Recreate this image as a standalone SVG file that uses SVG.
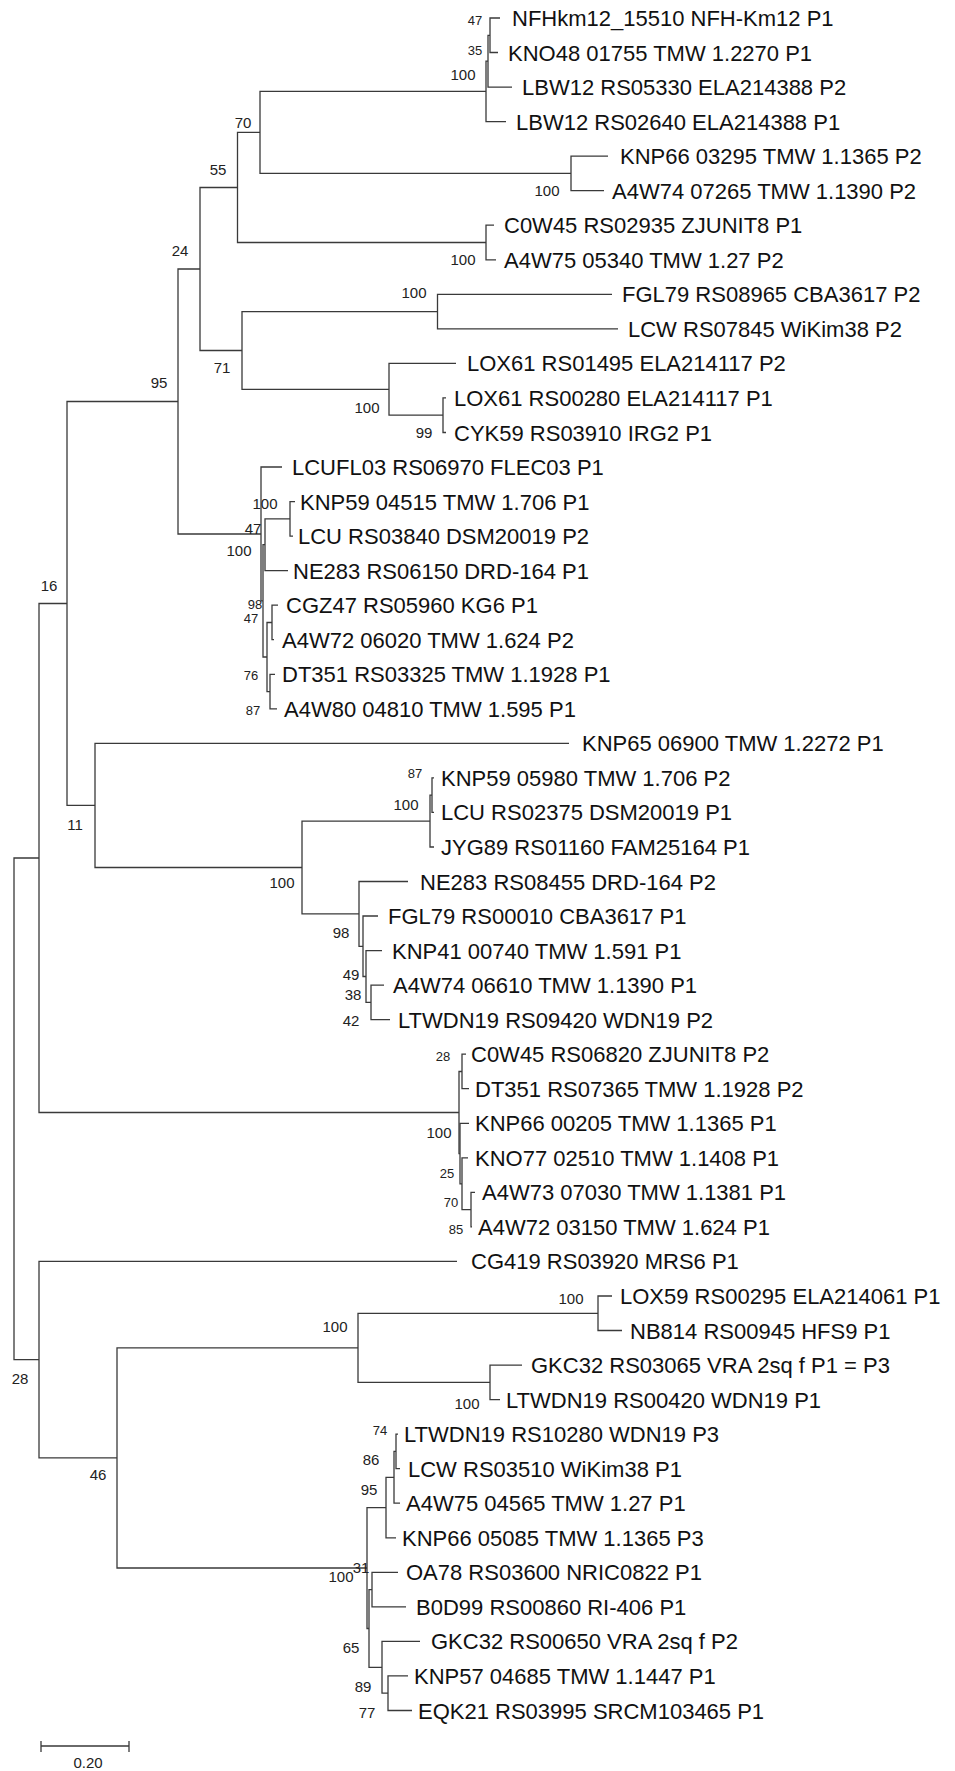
<svg xmlns="http://www.w3.org/2000/svg" width="955" height="1771" viewBox="0 0 955 1771">
<style>
.e{fill:none;stroke:#3a3a3a;stroke-width:1.3}
.t{font-family:"Liberation Sans",Arial,sans-serif;font-size:22px;fill:#111}
.b{font-family:"Liberation Sans",Arial,sans-serif;font-size:15px;fill:#222;text-anchor:middle}
.s{font-size:13px}
</style>
<rect width="955" height="1771" fill="#fff"/>
<g id="connectors" class="e">
<path d="M500 18 H490 V52.5 H498"/>
<path d="M490 35.3 H488 V87.1 H512"/>
<path d="M488 61.2 H486 V121.6 H506"/>
<path d="M608 156.2 H571 V190.7 H604"/>
<path d="M486 91.4 H260 V173.4 H571"/>
<path d="M494 225.2 H486 V259.8 H496"/>
<path d="M260 132.4 H237.5 V242.5 H486"/>
<path d="M612 294.3 H437.5 V328.9 H618"/>
<path d="M446 397.9 H443 V432.5 H446"/>
<path d="M456 363.4 H389 V415.2 H443"/>
<path d="M437.5 311.6 H242 V389.3 H389"/>
<path d="M237.5 187.5 H200 V350.5 H242"/>
<path d="M295 501.6 H290 V536.1 H293"/>
<path d="M290 518.9 H265 V570.6 H288"/>
<path d="M278 605.2 H272 V639.7 H274"/>
<path d="M275 674.3 H270 V708.8 H277"/>
<path d="M272 622.5 H267 V691.6 H270"/>
<path d="M265 544.7 H263 V657 H267"/>
<path d="M282 467 H261 V600.9 H263"/>
<path d="M200 269 H178 V534 H261"/>
<path d="M434 777.9 H432 V812.4 H434"/>
<path d="M432 795.2 H430 V847 H434"/>
<path d="M384 985.1 H371 V1019.7 H390"/>
<path d="M382 950.6 H366 V1002.4 H371"/>
<path d="M378 916 H363 V976.5 H366"/>
<path d="M408 881.5 H359 V946.3 H363"/>
<path d="M430 821.1 H302 V913.9 H359"/>
<path d="M569 743.3 H95 V867.5 H302"/>
<path d="M178 401.5 H67 V805.4 H95"/>
<path d="M475 1192.4 H471 V1226.9 H472"/>
<path d="M468 1157.8 H462 V1209.7 H471"/>
<path d="M469 1123.3 H460 V1183.8 H462"/>
<path d="M466 1054.2 H462 V1088.7 H469"/>
<path d="M462 1071.5 H459 V1153.6 H460"/>
<path d="M67 603.5 H39 V1112.5 H459"/>
<path d="M612 1296 H598 V1330.5 H622"/>
<path d="M522 1365.1 H490 V1399.6 H500"/>
<path d="M598 1313.3 H358 V1382.4 H490"/>
<path d="M398 1434.1 H396 V1468.7 H400"/>
<path d="M396 1451.4 H394 V1503.2 H400"/>
<path d="M394 1477.3 H386 V1537.8 H396"/>
<path d="M398 1572.3 H372 V1606.8 H406"/>
<path d="M408 1675.9 H388 V1710.5 H412"/>
<path d="M420 1641.4 H382 V1693.2 H388"/>
<path d="M372 1589.6 H369 V1667.3 H382"/>
<path d="M386 1507.6 H367 V1628.5 H369"/>
<path d="M358 1347.8 H117 V1568 H367"/>
<path d="M457 1261.4 H39 V1457.9 H117"/>
<path d="M39 858 H14 V1359.7 H39"/>
<path d="M41 1746 H129 M41 1741 V1752 M129 1741 V1752"/>
</g>
<g id="leaves" class="t">
<g id="leaf1"><text x="512" y="26">NFHkm12_15510 NFH-Km12 P1</text></g>
<g id="leaf2"><text x="508" y="60.5">KNO48 01755 TMW 1.2270 P1</text></g>
<g id="leaf3"><text x="522" y="95.1">LBW12 RS05330 ELA214388 P2</text></g>
<g id="leaf4"><text x="516" y="129.6">LBW12 RS02640 ELA214388 P1</text></g>
<g id="leaf5"><text x="620" y="164.2">KNP66 03295 TMW 1.1365 P2</text></g>
<g id="leaf6"><text x="612" y="198.7">A4W74 07265 TMW 1.1390 P2</text></g>
<g id="leaf7"><text x="504" y="233.2">C0W45 RS02935 ZJUNIT8 P1</text></g>
<g id="leaf8"><text x="504" y="267.8">A4W75 05340 TMW 1.27 P2</text></g>
<g id="leaf9"><text x="622" y="302.3">FGL79 RS08965 CBA3617 P2</text></g>
<g id="leaf10"><text x="628" y="336.9">LCW RS07845 WiKim38 P2</text></g>
<g id="leaf11"><text x="467" y="371.4">LOX61 RS01495 ELA214117 P2</text></g>
<g id="leaf12"><text x="454" y="405.9">LOX61 RS00280 ELA214117 P1</text></g>
<g id="leaf13"><text x="454" y="440.5">CYK59 RS03910 IRG2 P1</text></g>
<g id="leaf14"><text x="292" y="475">LCUFL03 RS06970 FLEC03 P1</text></g>
<g id="leaf15"><text x="300" y="509.6">KNP59 04515 TMW 1.706 P1</text></g>
<g id="leaf16"><text x="298" y="544.1">LCU RS03840 DSM20019 P2</text></g>
<g id="leaf17"><text x="293" y="578.6">NE283 RS06150 DRD-164 P1</text></g>
<g id="leaf18"><text x="286" y="613.2">CGZ47 RS05960 KG6 P1</text></g>
<g id="leaf19"><text x="282" y="647.7">A4W72 06020 TMW 1.624 P2</text></g>
<g id="leaf20"><text x="282" y="682.3">DT351 RS03325 TMW 1.1928 P1</text></g>
<g id="leaf21"><text x="284" y="716.8">A4W80 04810 TMW 1.595 P1</text></g>
<g id="leaf22"><text x="582" y="751.3">KNP65 06900 TMW 1.2272 P1</text></g>
<g id="leaf23"><text x="441" y="785.9">KNP59 05980 TMW 1.706 P2</text></g>
<g id="leaf24"><text x="441" y="820.4">LCU RS02375 DSM20019 P1</text></g>
<g id="leaf25"><text x="441" y="855">JYG89 RS01160 FAM25164 P1</text></g>
<g id="leaf26"><text x="420" y="889.5">NE283 RS08455 DRD-164 P2</text></g>
<g id="leaf27"><text x="388" y="924">FGL79 RS00010 CBA3617 P1</text></g>
<g id="leaf28"><text x="392" y="958.6">KNP41 00740 TMW 1.591 P1</text></g>
<g id="leaf29"><text x="393" y="993.1">A4W74 06610 TMW 1.1390 P1</text></g>
<g id="leaf30"><text x="398" y="1027.7">LTWDN19 RS09420 WDN19 P2</text></g>
<g id="leaf31"><text x="471" y="1062.2">C0W45 RS06820 ZJUNIT8 P2</text></g>
<g id="leaf32"><text x="475" y="1096.7">DT351 RS07365 TMW 1.1928 P2</text></g>
<g id="leaf33"><text x="475" y="1131.3">KNP66 00205 TMW 1.1365 P1</text></g>
<g id="leaf34"><text x="475" y="1165.8">KNO77 02510 TMW 1.1408 P1</text></g>
<g id="leaf35"><text x="482" y="1200.4">A4W73 07030 TMW 1.1381 P1</text></g>
<g id="leaf36"><text x="478" y="1234.9">A4W72 03150 TMW 1.624 P1</text></g>
<g id="leaf37"><text x="471" y="1269.4">CG419 RS03920 MRS6 P1</text></g>
<g id="leaf38"><text x="620" y="1304">LOX59 RS00295 ELA214061 P1</text></g>
<g id="leaf39"><text x="630" y="1338.5">NB814 RS00945 HFS9 P1</text></g>
<g id="leaf40"><text x="531" y="1373.1">GKC32 RS03065 VRA 2sq f P1 = P3</text></g>
<g id="leaf41"><text x="506" y="1407.6">LTWDN19 RS00420 WDN19 P1</text></g>
<g id="leaf42"><text x="404" y="1442.1">LTWDN19 RS10280 WDN19 P3</text></g>
<g id="leaf43"><text x="408" y="1476.7">LCW RS03510 WiKim38 P1</text></g>
<g id="leaf44"><text x="406" y="1511.2">A4W75 04565 TMW 1.27 P1</text></g>
<g id="leaf45"><text x="402" y="1545.8">KNP66 05085 TMW 1.1365 P3</text></g>
<g id="leaf46"><text x="406" y="1580.3">OA78 RS03600 NRIC0822 P1</text></g>
<g id="leaf47"><text x="416" y="1614.8">B0D99 RS00860 RI-406 P1</text></g>
<g id="leaf48"><text x="431" y="1649.4">GKC32 RS00650 VRA 2sq f P2</text></g>
<g id="leaf49"><text x="414" y="1683.9">KNP57 04685 TMW 1.1447 P1</text></g>
<g id="leaf50"><text x="418" y="1718.5">EQK21 RS03995 SRCM103465 P1</text></g>
</g>
<g id="support" class="b">
<text class="s" x="475" y="25">47</text>
<text class="s" x="475" y="55">35</text>
<text x="463" y="80">100</text>
<text x="243" y="128">70</text>
<text x="547" y="196">100</text>
<text x="218" y="175">55</text>
<text x="463" y="265">100</text>
<text x="180" y="256">24</text>
<text x="414" y="298">100</text>
<text x="222" y="373">71</text>
<text x="367" y="413">100</text>
<text x="424" y="438">99</text>
<text x="159" y="388">95</text>
<text x="265" y="509">100</text>
<text x="253" y="534">47</text>
<text x="239" y="556">100</text>
<text class="s" x="255" y="609">98</text>
<text class="s" x="251" y="623">47</text>
<text class="s" x="251" y="680">76</text>
<text class="s" x="253" y="715">87</text>
<text x="49" y="591">16</text>
<text x="75" y="830">11</text>
<text class="s" x="415" y="778">87</text>
<text x="406" y="810">100</text>
<text x="282" y="888">100</text>
<text x="341" y="938">98</text>
<text x="351" y="980">49</text>
<text x="353" y="1000">38</text>
<text x="351" y="1026">42</text>
<text class="s" x="443" y="1061">28</text>
<text x="439" y="1138">100</text>
<text class="s" x="447" y="1178">25</text>
<text class="s" x="451" y="1207">70</text>
<text class="s" x="456" y="1234">85</text>
<text x="20" y="1384">28</text>
<text x="98" y="1480">46</text>
<text x="571" y="1304">100</text>
<text x="335" y="1332">100</text>
<text x="467" y="1409">100</text>
<text class="s" x="380" y="1435">74</text>
<text x="371" y="1465">86</text>
<text x="369" y="1495">95</text>
<text x="361" y="1573">31</text>
<text x="341" y="1582">100</text>
<text x="351" y="1653">65</text>
<text x="363" y="1692">89</text>
<text x="367" y="1718">77</text>
<text x="88" y="1768">0.20</text>
</g>
</svg>
